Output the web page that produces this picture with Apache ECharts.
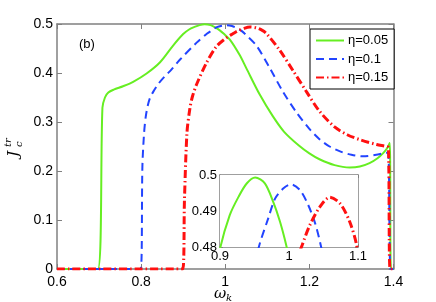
<!DOCTYPE html>
<html><head><meta charset="utf-8">
<script src="https://cdn.jsdelivr.net/npm/echarts@6/dist/echarts.min.js"></script>
<style>html,body{margin:0;padding:0;background:#fff}#c{width:436px;height:302px}</style>
</head><body><div id="c"></div>
<script>
// Data
const seriesNames = ['η=0.05', 'η=0.1', 'η=0.15'];
const green005 = [[0.6,0],[0.697,0],[0.708,0.329],[0.714,0.35],[0.722,0.36],[0.735,0.366],[0.757,0.373],[0.781,0.382],[0.813,0.399],[0.845,0.422],[0.876,0.456],[0.9,0.4795],[0.914,0.4888],[0.927,0.494],[0.939,0.4977],[0.951,0.4993],[0.965,0.4977],[0.977,0.4926],[0.987,0.487],[0.996,0.4805],[1.011,0.468],[1.034,0.437],[1.05,0.41],[1.082,0.356],[1.113,0.312],[1.14,0.28],[1.175,0.252],[1.2,0.236],[1.224,0.224],[1.26,0.212],[1.296,0.207],[1.32,0.209],[1.343,0.216],[1.362,0.226],[1.376,0.237],[1.386,0.248],[1.391,0.257],[1.394,0],[1.4,0]];
const blue01 = [[0.6,0],[0.799,0],[0.803,0.209],[0.807,0.277],[0.811,0.311],[0.816,0.334],[0.821,0.349],[0.829,0.362],[0.842,0.379],[0.856,0.393],[0.872,0.407],[0.892,0.427],[0.932,0.462],[0.957,0.4805],[0.970,0.488],[0.980,0.4935],[0.992,0.4963],[1.003,0.4974],[1.016,0.4958],[1.028,0.4916],[1.038,0.4865],[1.046,0.4805],[1.074,0.456],[1.106,0.41],[1.137,0.362],[1.169,0.32],[1.2,0.286],[1.224,0.265],[1.248,0.25],[1.273,0.24],[1.3,0.233],[1.327,0.23],[1.359,0.233],[1.383,0.237],[1.388,0.236],[1.393,0],[1.4,0]];
const red015 = [[0.6,0],[0.899,0],[0.903,0.14],[0.909,0.278],[0.916,0.328],[0.922,0.352],[0.932,0.377],[0.955,0.42],[0.979,0.454],[1.003,0.472],[1.019,0.4805],[1.030,0.486],[1.045,0.4912],[1.059,0.4938],[1.074,0.4921],[1.088,0.487],[1.098,0.4805],[1.129,0.447],[1.161,0.405],[1.193,0.362],[1.224,0.322],[1.26,0.29],[1.29,0.274],[1.32,0.264],[1.36,0.254],[1.383,0.25],[1.388,0.248],[1.392,0],[1.4,0]];
const mainX = {min:0.6, max:1.4, interval:0.2};
const mainY = {min:0, max:0.5, interval:0.1};
const insetX = {min:0.9, max:1.1, interval:0.1};
const insetY = {min:0.48, max:0.5, interval:0.01};

const colors = ['#66ee22', '#2244ff', '#ff1010'];
const styles = [
  {width:2, type:'solid'},
  {width:2, type:[8,5]},
  {width:3, type:[8,3,1.5,3]}
];
const datas = [green005, blue01, red015];

const frame = '#808080';
const lbl = {fontFamily:'Liberation Sans, Arial, sans-serif', color:'#000'};
function ax(r, grid, pos, showLabel, fs, margin){
  return {type:'value', gridIndex:grid, position:pos, min:r.min, max:r.max, interval:r.interval,
    axisLine:{show:true, onZero:false, lineStyle:{color:frame, width:1.5}},
    axisTick:{show:true, inside:true, length:grid===0?5:3, lineStyle:{color:frame}},
    axisLabel:{show:showLabel, fontSize:fs, margin:margin, ...lbl},
    splitLine:{show:false}};
}
const series = [];
for (let g=0; g<2; g++){
  for (let i=0;i<3;i++){
    series.push({name:seriesNames[i], type:'line', xAxisIndex:g*2, yAxisIndex:g*2, data:datas[i],
      symbol:'none', smooth:0.3, clip:true, color:colors[i],
      itemStyle:{color:colors[i]},
      lineStyle:{color:colors[i], width:styles[i].width, type:styles[i].type}, z:3+i+g*10});
  }
}
const chart = echarts.init(document.getElementById('c'), null, {renderer:'canvas'});
chart.setOption({
  animation:false,
  backgroundColor:'#fff',
  grid:[
    {left:57, top:24, width:336.5, height:245},
    {left:220, top:175, width:138, height:72, show:true, backgroundColor:'#fff', borderWidth:0, z:8}
  ],
  xAxis:[ax(mainX,0,'bottom',true,14,6), ax(mainX,0,'top',false,14,6),
         ax(insetX,1,'bottom',true,13,3), ax(insetX,1,'top',false,13,3)],
  yAxis:[ax(mainY,0,'left',true,14,4), ax(mainY,0,'right',false,14,4),
         ax(insetY,1,'left',true,13,3), ax(insetY,1,'right',false,13,3)],
  legend:{data:seriesNames, orient:'vertical', left:310, top:29, itemWidth:28, itemHeight:12, itemGap:5.5,
    padding:[5,6,5,5], borderColor:'#000', borderWidth:1, backgroundColor:'#fff',
    itemStyle:{opacity:0},
    textStyle:{fontSize:13, padding:[0,0,0,-1], ...lbl}, selectedMode:false},
  series:series,
  graphic:[
    {type:'text', left:79, top:38, style:{text:'(b)', font:'13px Liberation Sans, Arial, sans-serif', fill:'#000'}},
    {type:'group', x:14, y:146, rotation:Math.PI/2, children:[
      {type:'text', x:-8, y:0, style:{text:'J', font:'italic 15px DejaVu Serif, serif', fill:'#000', textAlign:'center', textVerticalAlign:'middle'}},
      {type:'text', x:-1, y:-6, style:{text:'tr', font:'italic 10px DejaVu Serif, serif', fill:'#000', textAlign:'left', textVerticalAlign:'middle'}},
      {type:'text', x:-1, y:5, style:{text:'c', font:'italic 10px DejaVu Serif, serif', fill:'#000', textAlign:'left', textVerticalAlign:'middle'}}
    ]},
    {type:'text', x:220, y:294, style:{text:'ω', font:'italic 15px DejaVu Serif, serif', fill:'#000', textAlign:'center', textVerticalAlign:'middle'}},
    {type:'text', x:226, y:298, style:{text:'k', font:'italic 10px DejaVu Serif, serif', fill:'#000', textAlign:'left', textVerticalAlign:'middle'}}
  ]
});
</script></body></html>
